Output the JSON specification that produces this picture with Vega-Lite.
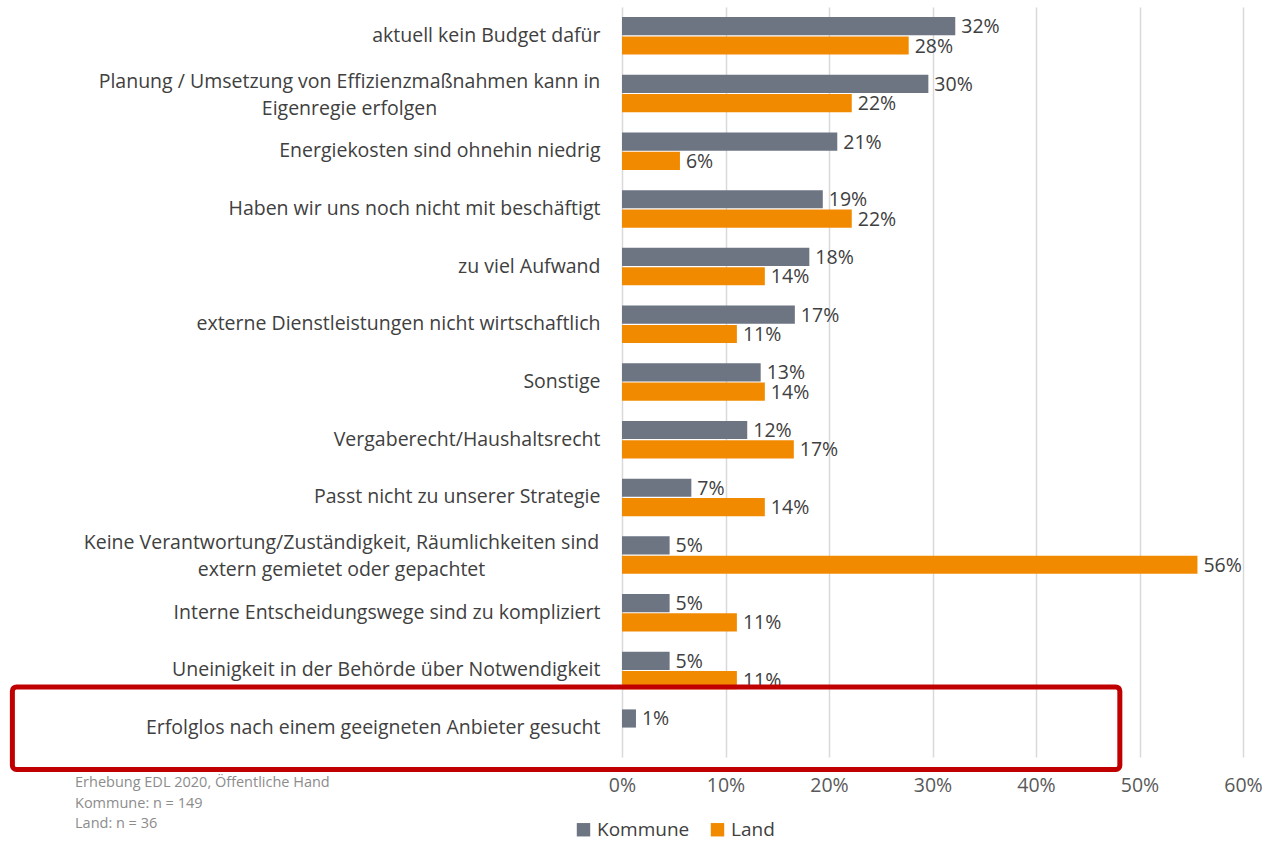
{
  "$schema": "https://vega.github.io/schema/vega-lite/v6.json",
  "width": 621,
  "height": 750,
  "autosize": {"type": "none"},
  "padding": {"left": 622, "top": 7, "right": 22, "bottom": 85},
  "background": "white",
  "config": {"font": "Open Sans", "view": {"stroke": null}},
  "title": {
    "text": ["Erhebung EDL 2020, Öffentliche Hand", "Kommune: n = 149", "Land: n = 36"],
    "orient": "bottom",
    "anchor": "start",
    "frame": "group",
    "baseline": "top",
    "dx": -547,
    "dy": -64,
    "fontSize": 14.5,
    "fontWeight": "normal",
    "color": "#8C8C8C",
    "lineHeight": 20.5,
    "offset": 0
  },
  "datasets": {
    "bars": [
      {"cat": "aktuell kein Budget dafür", "series": "Kommune", "value": 0.322},
      {"cat": "aktuell kein Budget dafür", "series": "Land", "value": 0.277},
      {"cat": "Planung / Umsetzung von Effizienzmaßnahmen kann in|Eigenregie erfolgen", "series": "Kommune", "value": 0.296},
      {"cat": "Planung / Umsetzung von Effizienzmaßnahmen kann in|Eigenregie erfolgen", "series": "Land", "value": 0.222},
      {"cat": "Energiekosten sind ohnehin niedrig", "series": "Kommune", "value": 0.208},
      {"cat": "Energiekosten sind ohnehin niedrig", "series": "Land", "value": 0.056},
      {"cat": "Haben wir uns noch nicht mit beschäftigt", "series": "Kommune", "value": 0.194},
      {"cat": "Haben wir uns noch nicht mit beschäftigt", "series": "Land", "value": 0.222},
      {"cat": "zu viel Aufwand", "series": "Kommune", "value": 0.181},
      {"cat": "zu viel Aufwand", "series": "Land", "value": 0.138},
      {"cat": "externe Dienstleistungen nicht wirtschaftlich", "series": "Kommune", "value": 0.167},
      {"cat": "externe Dienstleistungen nicht wirtschaftlich", "series": "Land", "value": 0.111},
      {"cat": "Sonstige", "series": "Kommune", "value": 0.134},
      {"cat": "Sonstige", "series": "Land", "value": 0.138},
      {"cat": "Vergaberecht/Haushaltsrecht", "series": "Kommune", "value": 0.121},
      {"cat": "Vergaberecht/Haushaltsrecht", "series": "Land", "value": 0.166},
      {"cat": "Passt nicht zu unserer Strategie", "series": "Kommune", "value": 0.067},
      {"cat": "Passt nicht zu unserer Strategie", "series": "Land", "value": 0.138},
      {"cat": "Keine Verantwortung/Zuständigkeit, Räumlichkeiten sind|extern gemietet oder gepachtet", "series": "Kommune", "value": 0.046},
      {"cat": "Keine Verantwortung/Zuständigkeit, Räumlichkeiten sind|extern gemietet oder gepachtet", "series": "Land", "value": 0.556},
      {"cat": "Interne Entscheidungswege sind zu kompliziert", "series": "Kommune", "value": 0.046},
      {"cat": "Interne Entscheidungswege sind zu kompliziert", "series": "Land", "value": 0.111},
      {"cat": "Uneinigkeit in der Behörde über Notwendigkeit", "series": "Kommune", "value": 0.046},
      {"cat": "Uneinigkeit in der Behörde über Notwendigkeit", "series": "Land", "value": 0.111},
      {"cat": "Erfolglos nach einem geeigneten Anbieter gesucht", "series": "Kommune", "value": 0.0135}
    ],
    "box": [
      {"cat": "Erfolglos nach einem geeigneten Anbieter gesucht", "x1": -0.589, "x2": 0.481}
    ]
  },
  "encoding": {
    "y": {
      "field": "cat",
      "type": "nominal",
      "sort": null,
      "scale": {"paddingInner": 0.35, "paddingOuter": 0.175},
      "axis": {
        "title": null,
        "domain": false,
        "ticks": false,
        "labelPadding": 22,
        "labelFontSize": 19.5,
        "labelColor": "#404040",
        "labelLimit": 700,
        "labelLineHeight": 27,
        "labelExpr": "split(datum.label, '|')",
        "labelAlign": {"condition": {"test": "indexof(datum.value, '|') >= 0", "value": "center"}, "value": "right"},
        "encoding": {
          "labels": {
            "dx": {
              "condition": [
                {"test": "indexof(datum.value, 'Planung') >= 0", "value": -251},
                {"test": "indexof(datum.value, 'Keine') >= 0", "value": -259}
              ],
              "value": 0
            },
            "dy": {
              "condition": {"test": "indexof(datum.value, '|') >= 0", "value": -12},
              "value": 0
            }
          }
        }
      }
    },
    "x": {
      "field": "value",
      "type": "quantitative",
      "scale": {"domain": [0, 0.6]},
      "axis": {
        "title": null,
        "format": ".0%",
        "values": [0, 0.1, 0.2, 0.3, 0.4, 0.5, 0.6],
        "labelOverlap": false,
        "labelFlush": false,
        "domain": false,
        "ticks": false,
        "labelPadding": 19,
        "labelFontSize": 19.5,
        "labelColor": "#595959",
        "gridColor": "#D9D9D9",
        "gridWidth": 1.5
      }
    }
  },
  "layer": [
    {
      "data": {"name": "bars"},
      "mark": {"type": "bar"},
      "encoding": {
        "yOffset": {"field": "series", "type": "nominal", "sort": ["Kommune", "Land"], "scale": {"paddingInner": 0.06}},
        "color": {
          "field": "series",
          "type": "nominal",
          "scale": {"domain": ["Kommune", "Land"], "range": ["#6D7583", "#F28A00"]},
          "legend": {
            "title": null,
            "orient": "none",
            "direction": "horizontal",
            "legendX": -48,
            "legendY": 813,
            "symbolType": "square",
            "symbolSize": 180,
            "symbolStrokeWidth": 0,
            "labelFontSize": 19,
            "labelColor": "#404040",
            "columnPadding": 18
          }
        }
      }
    },
    {
      "data": {"name": "bars"},
      "mark": {"type": "text", "align": "left", "dx": 6, "dy": 1, "fontSize": 19.5, "color": "#404040"},
      "encoding": {
        "yOffset": {"field": "series", "type": "nominal", "sort": ["Kommune", "Land"], "scale": {"paddingInner": 0.06}},
        "text": {"field": "value", "type": "quantitative", "format": ".0%"}
      }
    },
    {
      "data": {"name": "box"},
      "mark": {"type": "bar", "fill": null, "fillOpacity": 0, "stroke": "#C00000", "strokeWidth": 5, "cornerRadius": 4, "height": {"band": 2.2}, "clip": false},
      "encoding": {
        "x": {"field": "x1", "type": "quantitative"},
        "x2": {"field": "x2"}
      }
    }
  ]
}
